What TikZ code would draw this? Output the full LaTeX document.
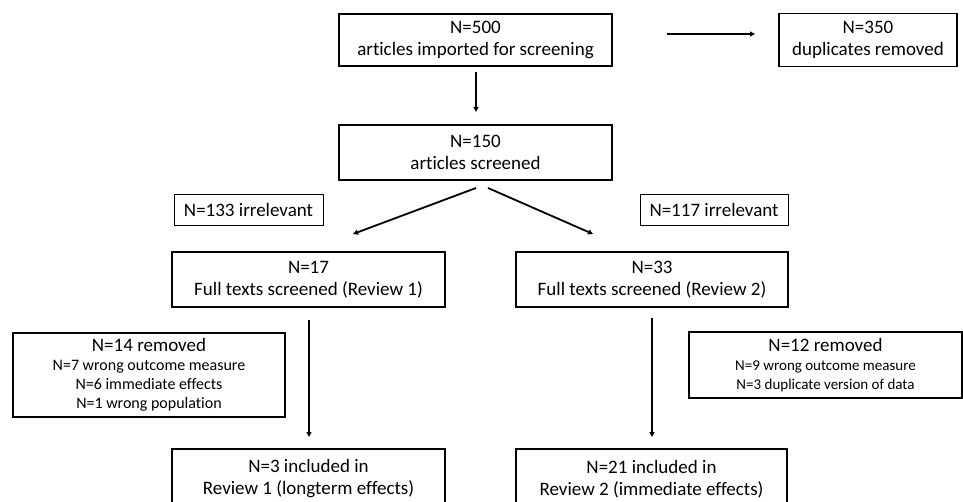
\documentclass[tikz,border=0pt]{standalone}
\usepackage{fontspec}
\setmainfont{Carlito}[Ligatures={NoCommon,NoRequired,NoContextual}]
\usetikzlibrary{arrows.meta}
\begin{document}
\begin{tikzpicture}[x=1pt,y=-1pt,
  mainbox/.style={draw=black,line width=1.8pt,inner sep=0pt,align=center,font=\fontsize{19}{22}\selectfont},
  thinbox/.style={draw=black,line width=0.8pt,inner sep=0pt,align=center,font=\fontsize{19}{22}\selectfont},
  arr/.style={line width=1.8pt,-{Triangle[length=5pt,width=5pt]}}]
\useasboundingbox (0,0) rectangle (963,502);
\clip (0,0) rectangle (963,502);
\node[mainbox,minimum width=273pt,minimum height=52pt] (A) at (475.5,40) {N=500\\articles imported for screening};
\node[mainbox,minimum width=178pt,minimum height=53pt] (B) at (868,40) {N=350\\duplicates removed};
\node[mainbox,minimum width=273pt,minimum height=55pt] (C) at (475.5,152.5) {N=150\\articles screened};
\node[thinbox,minimum width=149pt,minimum height=31pt] (I1) at (248.5,209.5) {N=133 irrelevant};
\node[thinbox,minimum width=148pt,minimum height=31pt] (I2) at (714,209.5) {N=117 irrelevant};
\node[mainbox,minimum width=273pt,minimum height=55pt] (D) at (308.5,279.5) {N=17\\Full texts screened (Review 1)};
\node[mainbox,minimum width=272pt,minimum height=55pt] (E) at (652,279.5) {N=33\\Full texts screened (Review 2)};
\node[mainbox,minimum width=272pt,minimum height=84pt,font=\fontsize{19}{19}\selectfont] (R1) at (149,375) {N=14 removed\\{\fontsize{16}{17.5}\selectfont N=7 wrong outcome measure}\\{\fontsize{16}{17.5}\selectfont N=6 immediate effects}\\{\fontsize{16}{17.5}\selectfont N=1 wrong population}};
\node[mainbox,minimum width=273pt,minimum height=66pt,font=\fontsize{19}{19}\selectfont] (R2) at (825.5,365) {N=12 removed\\{\fontsize{15}{17.5}\selectfont N=9 wrong outcome measure}\\{\fontsize{15}{17.5}\selectfont N=3 duplicate version of data}};
\node[mainbox,minimum width=273pt,minimum height=60pt] (F) at (308.5,479) {N=3 included in\\Review 1 (longterm effects)};
\node[mainbox,minimum width=271pt,minimum height=60pt] (G) at (651.5,479) {N=21 included in\\Review 2 (immediate effects)};
\coordinate (ab1) at (667,34); \coordinate (ab2) at (755,34);
\coordinate (ac1) at (476,72); \coordinate (ac2) at (476,112);
\coordinate (cd1) at (476,188); \coordinate (cd2) at (353,234);
\coordinate (ce1) at (488,188); \coordinate (ce2) at (593,234);
\coordinate (df1) at (309,320); \coordinate (df2) at (309,437);
\coordinate (eg1) at (652,318); \coordinate (eg2) at (652,437);
\draw[arr] (ab1) -- (ab2);
\draw[arr] (ac1) -- (ac2);
\draw[arr] (cd1) -- (cd2);
\draw[arr] (ce1) -- (ce2);
\draw[arr] (df1) -- (df2);
\draw[arr] (eg1) -- (eg2);
\end{tikzpicture}
\end{document}
